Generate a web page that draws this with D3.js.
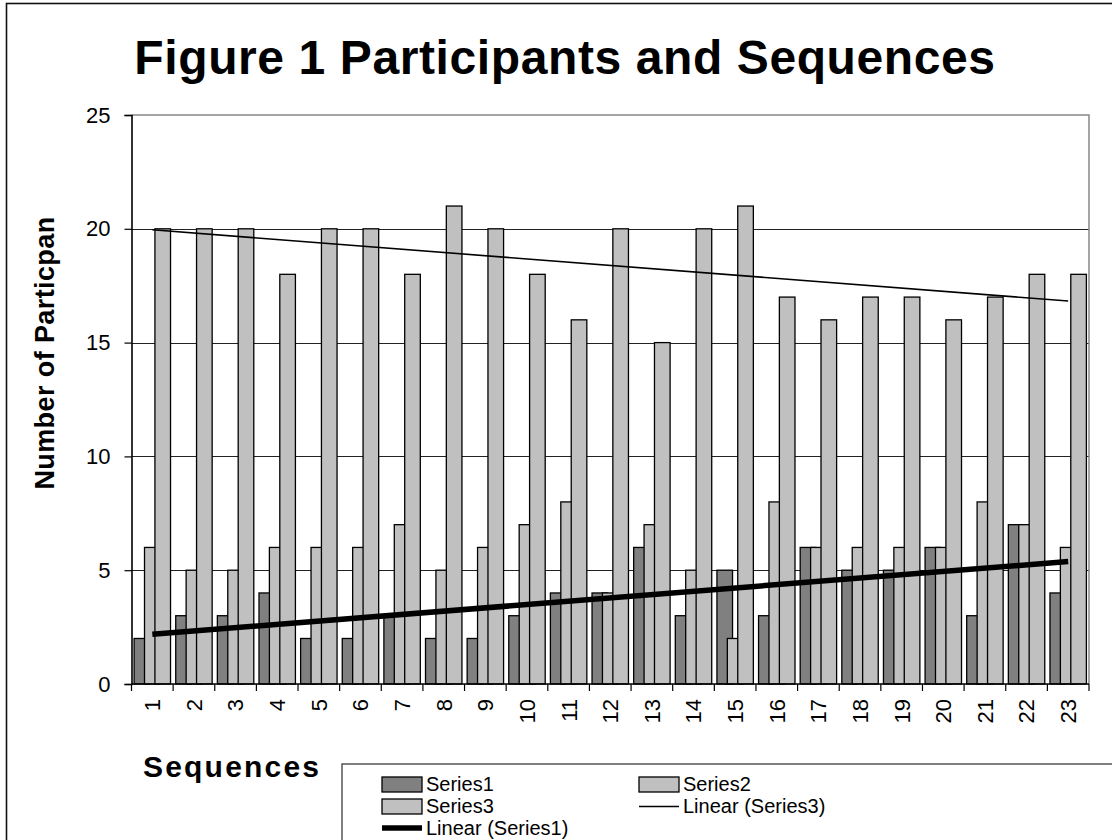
<!DOCTYPE html>
<html>
<head>
<meta charset="utf-8">
<script src="https://cdn.jsdelivr.net/npm/d3@7"></script>
<style>
  html, body { margin: 0; padding: 0; background: #fff; }
  svg { display: block; font-family: Arial, "Liberation Sans", Helvetica, sans-serif; }
</style>
</head>
<body>
<svg id="chart" width="1112" height="840"></svg>
<script>
// Sequence numbers on the x axis
const sequences = d3.range(1, 24);

// Participant counts per sequence
const series1 = [2, 3, 3, 4, 2, 2, 3, 2, 2, 3, 4, 4, 6, 3, 5, 3, 6, 5, 5, 6, 3, 7, 4];
const series2 = [6, 5, 5, 6, 6, 6, 7, 5, 6, 7, 8, 4, 7, 5, 2, 8, 6, 6, 6, 6, 8, 7, 6];
const series3 = [20, 20, 20, 18, 20, 20, 18, 21, 20, 18, 16, 20, 15, 20, 21, 17, 16, 17, 17, 16, 17, 18, 18];

const yTicks = [0, 5, 10, 15, 20, 25];
const seriesNames = ["Series1", "Series2", "Series3"];
const seriesFill = ["#808080", "#c0c0c0", "#c0c0c0"];

const svg = d3.select("#chart");

// Chart frame
svg.append("rect")
  .attr("x", 6.5).attr("y", 3.5)
  .attr("width", 1200).attr("height", 900)
  .attr("fill", "#fff").attr("stroke", "#111").attr("stroke-width", 1.6);

const plot = { left: 131.5, right: 1089, top: 115, bottom: 684 };

const x = d3.scaleBand().domain(sequences).range([plot.left, plot.right]).padding(0);
const y = d3.scaleLinear().domain([0, 25]).range([plot.bottom, plot.top]);
const bw = x.bandwidth();

// Title
svg.append("text")
  .attr("x", 565).attr("y", 74)
  .attr("text-anchor", "middle")
  .style("font-size", "48px").style("font-weight", "bold")
  .style("letter-spacing", "0.6px")
  .text("Figure 1 Participants and Sequences");

// Horizontal gridlines
svg.append("g")
  .selectAll("line")
  .data(yTicks.filter(t => t > 0 && t < 25))
  .join("line")
  .attr("x1", plot.left).attr("x2", plot.right)
  .attr("y1", d => Math.round(y(d)) + 0.5).attr("y2", d => Math.round(y(d)) + 0.5)
  .attr("stroke", "#222").attr("stroke-width", 1.2);

// Plot area top and right edges
svg.append("path")
  .attr("d", `M${plot.left},${y(25)}H${plot.right}V${plot.bottom}`)
  .attr("fill", "none").attr("stroke", "#888").attr("stroke-width", 1.5);

// Bars: three overlapping columns per sequence
const data = [series1, series2, series3];
const barW = bw * 0.375;
data.forEach((vals, si) => {
  svg.append("g")
    .selectAll("rect")
    .data(vals.map((v, i) => ({ seq: sequences[i], v })))
    .join("rect")
    .attr("x", d => x(d.seq) + bw * (0.0625 + si * 0.25))
    .attr("width", barW)
    .attr("y", d => y(d.v))
    .attr("height", d => y(0) - y(d.v))
    .attr("fill", seriesFill[si])
    .attr("stroke", "#000").attr("stroke-width", 1.3);
});

// Least-squares trendline
function linearFit(vals) {
  const n = vals.length;
  const xs = sequences;
  const mx = d3.mean(xs), my = d3.mean(vals);
  let sxy = 0, sxx = 0;
  for (let i = 0; i < n; i++) {
    sxy += (xs[i] - mx) * (vals[i] - my);
    sxx += (xs[i] - mx) * (xs[i] - mx);
  }
  const slope = sxy / sxx;
  return xv => my + slope * (xv - mx);
}

const fit3 = linearFit(series3);
const fit1 = linearFit(series1);
const ends = [sequences[0], sequences[sequences.length - 1]];
const lineGen = fit => d3.line()
  .x(s => x(s) + bw / 2)
  .y(s => y(fit(s)));

svg.append("path")
  .datum(ends)
  .attr("d", lineGen(fit3))
  .attr("fill", "none").attr("stroke", "#000").attr("stroke-width", 1.6);

svg.append("path")
  .datum(ends)
  .attr("d", lineGen(fit1))
  .attr("fill", "none").attr("stroke", "#000").attr("stroke-width", 5.5);

// Y axis
const yAxis = svg.append("g")
  .attr("transform", `translate(${plot.left},0)`)
  .call(d3.axisLeft(y).tickValues(yTicks).tickSize(7).tickPadding(14));
yAxis.select(".domain").attr("stroke", "#000").attr("stroke-width", 1.6);
yAxis.selectAll(".tick line").attr("stroke", "#000").attr("stroke-width", 1.2);
yAxis.selectAll(".tick text")
  .style("font-size", "22px").style("font-family", "Arial, 'Liberation Sans', sans-serif")
  .attr("fill", "#000");

// X axis: labels at centres, tick marks at category boundaries
const xAxis = svg.append("g")
  .attr("transform", `translate(0,${plot.bottom})`)
  .call(d3.axisBottom(x).tickSize(0).tickPadding(0));
xAxis.select(".domain").remove();
xAxis.selectAll(".tick text")
  .attr("transform", "rotate(-90)")
  .attr("x", -15).attr("y", 0).attr("dy", "0.36em")
  .style("text-anchor", "end")
  .style("font-size", "22px").style("font-family", "Arial, 'Liberation Sans', sans-serif")
  .attr("fill", "#000");

svg.append("line")
  .attr("x1", plot.left).attr("x2", plot.right)
  .attr("y1", plot.bottom).attr("y2", plot.bottom)
  .attr("stroke", "#000").attr("stroke-width", 1.6);

svg.append("g")
  .selectAll("line")
  .data(sequences.map(s => x(s)).concat([plot.right]))
  .join("line")
  .attr("x1", d => d).attr("x2", d => d)
  .attr("y1", plot.bottom).attr("y2", plot.bottom + 7)
  .attr("stroke", "#000").attr("stroke-width", 1.2);

// Axis titles
svg.append("text")
  .attr("transform", "translate(54,353) rotate(-90)")
  .attr("text-anchor", "middle")
  .style("font-size", "27px").style("font-weight", "bold")
  .style("letter-spacing", "0.4px")
  .text("Number of Particpan");

svg.append("text")
  .attr("x", 143).attr("y", 777)
  .style("font-size", "30px").style("font-weight", "bold")
  .style("letter-spacing", "2.2px")
  .text("Sequences");

// Legend
const legend = svg.append("g");
legend.append("rect")
  .attr("x", 342).attr("y", 764)
  .attr("width", 900).attr("height", 200)
  .attr("fill", "#fff").attr("stroke", "#555").attr("stroke-width", 1.5);

const legendItems = [
  { label: "Series1", kind: "bar", fill: seriesFill[0], col: 0, row: 0 },
  { label: "Series2", kind: "bar", fill: seriesFill[1], col: 1, row: 0 },
  { label: "Series3", kind: "bar", fill: seriesFill[2], col: 0, row: 1 },
  { label: "Linear (Series3)", kind: "line", width: 1.6, col: 1, row: 1 },
  { label: "Linear (Series1)", kind: "line", width: 5.5, col: 0, row: 2 }
];
const colX = [382, 639];
const rowY = [784.5, 806.5, 828];

legendItems.forEach(it => {
  const g = legend.append("g")
    .attr("transform", `translate(${colX[it.col]},${rowY[it.row]})`);
  if (it.kind === "bar") {
    g.append("rect")
      .attr("x", 0).attr("y", -7.5).attr("width", 40).attr("height", 15)
      .attr("fill", it.fill).attr("stroke", "#000").attr("stroke-width", 1.3);
  } else {
    g.append("line")
      .attr("x1", 0).attr("x2", 40).attr("y1", 0).attr("y2", 0)
      .attr("stroke", "#000").attr("stroke-width", it.width);
  }
  g.append("text")
    .attr("x", 44).attr("y", 6.5)
    .style("font-size", "20px")
    .text(it.label);
});
</script>
</body>
</html>
